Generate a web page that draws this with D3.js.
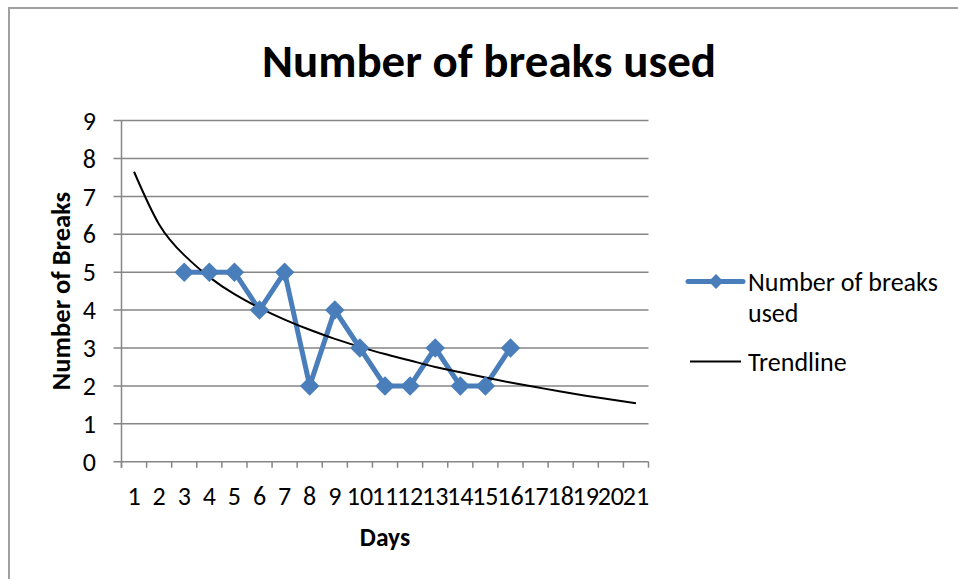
<!DOCTYPE html>
<html>
<head>
<meta charset="utf-8">
<script src="https://cdn.jsdelivr.net/npm/d3@7"></script>
<style>
  html, body { margin: 0; padding: 0; background: #fff; }
  svg { display: block; font-family: Carlito, Lato, "Open Sans", sans-serif; }
</style>
</head>
<body>
<svg id="chart" width="958" height="579"></svg>
<script>
// ---- data ----
const days = [1,2,3,4,5,6,7,8,9,10,11,12,13,14,15,16,17,18,19,20,21];
const breakDays = [3,4,5,6,7,8,9,10,11,12,13,14,15,16];
const breakValues = [5,5,5,4,5,2,4,3,2,2,3,2,2,3];
const trendValues = [7.65,6.26,5.45,4.87,4.42,4.06,3.75,3.48,3.24,3.03,2.84,2.67,2.50,2.36,2.22,2.09,1.97,1.85,1.74,1.64,1.54];
const yTicks = [0,1,2,3,4,5,6,7,8,9];
const chartTitle = "Number of breaks used";
const xTitle = "Days";
const yTitle = "Number of Breaks";
const legendLabels = ["Number of breaks", "used", "Trendline"];

// ---- layout ----
const svg = d3.select("#chart");
const blue = "#4A7EBB";
const grid = "#868686";
const plotL = 121.5, plotR = 648.5, plotT = 120.6, plotB = 461.7;
const fs = 26;

svg.append("rect").attr("width", 958).attr("height", 579).attr("fill", "#fff");
svg.append("path").attr("d", "M9,579V8H958").attr("fill", "none")
   .attr("stroke", "#a0a0a0").attr("stroke-width", 2);

const x = d3.scaleBand().domain(days).range([plotL, plotR]).padding(0);
const y = d3.scaleLinear().domain([0, 9]).range([plotB, plotT]);

// gridlines + y ticks
svg.append("g").selectAll("line").data(yTicks).join("line")
   .attr("x1", plotL - 8).attr("x2", plotR)
   .attr("y1", d => y(d)).attr("y2", d => y(d))
   .attr("stroke", grid).attr("stroke-width", 1.5);

// y axis line
svg.append("line").attr("x1", plotL).attr("x2", plotL).attr("y1", y(9)).attr("y2", plotB + 6)
   .attr("stroke", grid).attr("stroke-width", 1.5);

// x ticks at band boundaries
const bounds = days.map(d => x(d)).concat([x(days[days.length-1]) + x.bandwidth()]);
svg.append("g").selectAll("line").data(bounds).join("line")
   .attr("x1", d => d).attr("x2", d => d).attr("y1", plotB).attr("y2", plotB + 6)
   .attr("stroke", grid).attr("stroke-width", 1.5);

// y tick labels
svg.append("g").selectAll("text").data(yTicks).join("text")
   .attr("x", 96).attr("y", d => y(d)).attr("dy", "0.35em")
   .attr("text-anchor", "end").attr("font-size", fs).attr("fill", "#000")
   .text(d => d);

// x tick labels
svg.append("g").selectAll("text").data(days).join("text")
   .attr("x", d => x(d) + x.bandwidth()/2).attr("y", 496).attr("dy", "0.35em")
   .attr("text-anchor", "middle").attr("font-size", fs).attr("fill", "#000")
   .text(d => d);

// titles
svg.append("text").attr("x", 489).attr("y", 77).attr("text-anchor", "middle")
   .attr("font-size", 47).attr("font-weight", "bold").text(chartTitle);
svg.append("text").attr("x", 385).attr("y", 537).attr("dy", "0.35em").attr("text-anchor", "middle")
   .attr("font-size", 25.5).attr("font-weight", "bold").text(xTitle);
svg.append("text").attr("transform", "translate(61,291) rotate(-90)").attr("dy", "0.35em")
   .attr("text-anchor", "middle").attr("font-size", 26.5).attr("font-weight", "bold").text(yTitle);

// series line
const cx = d => x(d) + x.bandwidth()/2;
const pts = breakDays.map((d, i) => [cx(d), y(breakValues[i])]);
svg.append("path").attr("d", d3.line()(pts)).attr("fill", "none")
   .attr("stroke", blue).attr("stroke-width", 5).attr("stroke-linejoin", "round");

// trendline
const tpts = days.map((d, i) => [cx(d), y(trendValues[i])]);
svg.append("path").attr("d", d3.line().curve(d3.curveNatural)(tpts)).attr("fill", "none")
   .attr("stroke", "#000").attr("stroke-width", 2);

// markers (diamonds)
const diamond = d3.symbol().type(d3.symbolSquare).size(190);
svg.append("g").selectAll("path").data(pts).join("path")
   .attr("d", diamond()).attr("transform", p => `translate(${p[0]},${p[1]}) rotate(45)`)
   .attr("fill", blue);

// legend
svg.append("line").attr("x1", 688).attr("x2", 743).attr("y1", 281.5).attr("y2", 281.5)
   .attr("stroke", blue).attr("stroke-width", 5).attr("stroke-linecap", "round");
svg.append("path").attr("d", d3.symbol().type(d3.symbolSquare).size(110)())
   .attr("transform", "translate(716,281.5) rotate(45)").attr("fill", blue);
svg.append("text").attr("x", 748).attr("y", 281.5).attr("dy", "0.35em").attr("font-size", 26).text(legendLabels[0]);
svg.append("text").attr("x", 748).attr("y", 313).attr("dy", "0.35em").attr("font-size", 26).text(legendLabels[1]);
svg.append("line").attr("x1", 690).attr("x2", 741).attr("y1", 361.5).attr("y2", 361.5)
   .attr("stroke", "#000").attr("stroke-width", 2);
svg.append("text").attr("x", 748).attr("y", 361.5).attr("dy", "0.35em").attr("font-size", 26).text(legendLabels[2]);
</script>
</body>
</html>
